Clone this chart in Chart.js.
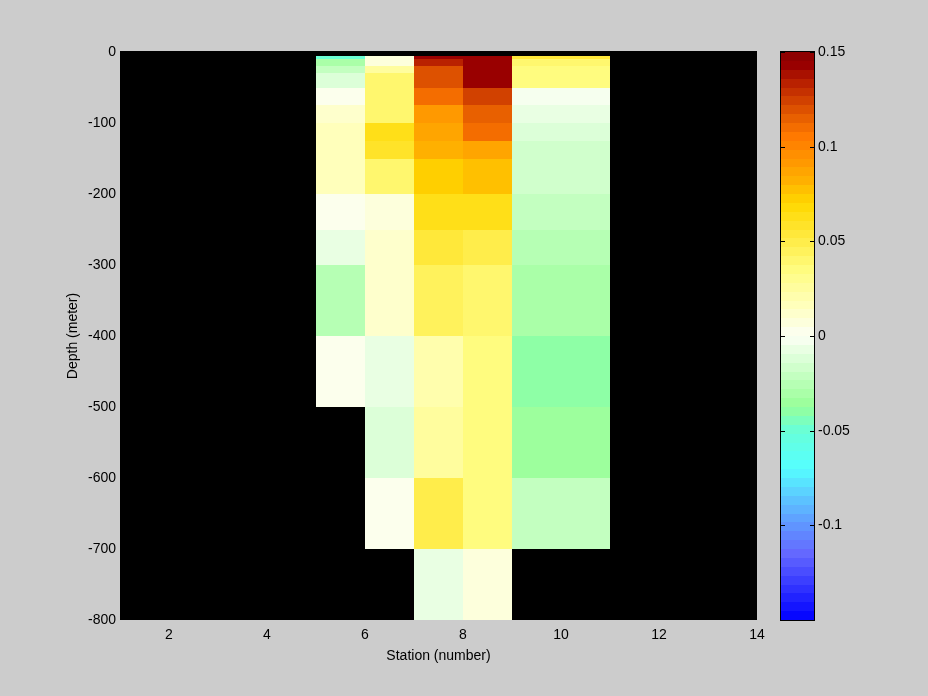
<!DOCTYPE html>
<html>
<head>
<meta charset="utf-8">
<script src="https://cdn.jsdelivr.net/npm/chart.js@4/dist/chart.umd.min.js"></script>
<style>
  html, body { margin: 0; padding: 0; background: #cccccc; }
  canvas { display: block; }
</style>
</head>
<body>
<canvas id="chart" width="928" height="696"></canvas>
<script>
// grid edges (pcolor style)
const stationEdges = [5, 6, 7, 8, 9, 11];
const depthEdges = [-5, -10, -20, -30, -50, -75, -100, -125, -150, -200, -250, -300, -400, -500, -600, -700, -800];

// one value per depth cell, null = no data (black)
const station5 = [-0.049, -0.030, -0.023, -0.011, 0.002, 0.013, 0.017, 0.017, 0.017, 0.004, -0.009, -0.024, 0.002, null, null, null];
const station6 = [0.007, 0.007, 0.028, 0.040, 0.040, 0.040, 0.061, 0.058, 0.040, 0.006, 0.013, 0.013, -0.006, -0.011, 0.002, null];
const station7 = [0.144, 0.134, 0.120, 0.120, 0.110, 0.090, 0.086, 0.082, 0.071, 0.065, 0.055, 0.043, 0.020, 0.024, 0.050, -0.006];
const station8 = [0.145, 0.145, 0.145, 0.145, 0.124, 0.115, 0.110, 0.086, 0.077, 0.061, 0.050, 0.038, 0.033, 0.034, 0.036, 0.007];
const station9 = [0.055, 0.040, 0.035, 0.035, -0.002, -0.006, -0.011, -0.015, -0.015, -0.019, -0.024, -0.029, -0.042, -0.037, -0.020, null];
const columns = [station5, station6, station7, station8, station9];

const xTicks = [2, 4, 6, 8, 10, 12, 14];
const yTicks = [-800, -700, -600, -500, -400, -300, -200, -100, 0];
const cbTicks = [-0.1, -0.05, 0, 0.05, 0.1, 0.15];
const cMin = -0.15, cMax = 0.15, nColors = 64;

// colormap control points: value, r, g, b
const cmapStops = [
    [-0.15, 0, 0, 255],
    [-0.115, 100, 104, 255],
    [-0.1, 96, 150, 255],
    [-0.085, 92, 200, 255],
    [-0.07, 85, 255, 255],
    [-0.05, 104, 255, 216],
    [-0.037, 152, 255, 152],
    [0, 252, 255, 245],
    [0.015, 255, 255, 192],
    [0.035, 255, 252, 128],
    [0.05, 255, 236, 72],
    [0.07, 255, 216, 0],
    [0.082, 255, 176, 0],
    [0.092, 255, 152, 0],
    [0.106, 255, 120, 0],
    [0.115, 232, 96, 0],
    [0.134, 184, 32, 0],
    [0.143, 153, 0, 0],
    [0.15, 136, 0, 0]
];

const interp = (v) => {
    for (let i = 0; i < cmapStops.length - 1; i++) {
        const a = cmapStops[i], b = cmapStops[i + 1];
        if (v <= b[0]) {
            const t = Math.max(0, (v - a[0]) / (b[0] - a[0]));
            return [1, 2, 3].map(k => Math.round(a[k] + (b[k] - a[k]) * t));
        }
    }
    return cmapStops[cmapStops.length - 1].slice(1);
};

const step = (cMax - cMin) / nColors;
const colormap = [];
for (let k = 0; k < nColors; k++) {
    const c = interp(cMin + (k + 0.5) * step);
    colormap.push(`rgb(${c[0]},${c[1]},${c[2]})`);
}
const colorFor = (v) => {
    let idx = Math.floor((v - cMin) / (cMax - cMin) * nColors);
    return colormap[Math.min(nColors - 1, Math.max(0, idx))];
};

const heatmap = {
    id: 'heatmap',
    beforeDatasetsDraw(chart) {
        const {ctx, chartArea: a, scales: {x, y, cb}} = chart;
        ctx.save();
        // axes background (NaN shows black)
        ctx.fillStyle = '#000';
        ctx.fillRect(a.left, a.top - 1, a.right - a.left, a.bottom - a.top + 1);

        columns.forEach((col, i) => {
            const x0 = Math.round(x.getPixelForValue(stationEdges[i]));
            const x1 = Math.round(x.getPixelForValue(stationEdges[i + 1]));
            col.forEach((v, j) => {
                if (v === null) return;
                const y0 = Math.round(y.getPixelForValue(depthEdges[j]));
                const y1 = Math.round(y.getPixelForValue(depthEdges[j + 1]));
                ctx.fillStyle = colorFor(v);
                ctx.fillRect(x0, y0, x1 - x0, y1 - y0);
            });
        });

        // colorbar
        const bx0 = a.right + 24, bx1 = a.right + 57;
        for (let k = 0; k < nColors; k++) {
            const yTop = Math.round(cb.getPixelForValue(cMin + (k + 1) * step));
            const yBot = Math.round(cb.getPixelForValue(cMin + k * step));
            ctx.fillStyle = colormap[k];
            ctx.fillRect(bx0, yTop, bx1 - bx0, yBot - yTop);
        }
        ctx.strokeStyle = '#000';
        ctx.lineWidth = 1;
        const cTop = Math.round(cb.getPixelForValue(cMax));
        const cBot = Math.round(cb.getPixelForValue(cMin));
        ctx.strokeRect(bx0 - 0.5, cTop - 0.5, bx1 - bx0 + 1, cBot - cTop + 1);
        ctx.beginPath();
        cbTicks.forEach(t => {
            const py = Math.round(cb.getPixelForValue(t)) + 0.5;
            ctx.moveTo(bx0, py); ctx.lineTo(bx0 + 4, py);
            ctx.moveTo(bx1, py); ctx.lineTo(bx1 - 4, py);
        });
        ctx.stroke();
        ctx.restore();
    }
};

Chart.defaults.color = '#000';
Chart.defaults.font.family = '"Liberation Sans", Arial, sans-serif';
Chart.defaults.font.size = 14;

new Chart(document.getElementById('chart'), {
    type: 'scatter',
    data: { datasets: [] },
    options: {
        responsive: false,
        animation: false,
        layout: { padding: { top: 52, right: 0, bottom: 0, left: 0 } },
        plugins: { legend: { display: false }, tooltip: { enabled: false } },
        scales: {
            x: {
                type: 'linear',
                min: 1,
                max: 14,
                afterBuildTicks: (s) => { s.ticks = xTicks.map(v => ({value: v})); },
                afterFit: (s) => { s.height = 76; },
                grid: { display: false, drawTicks: false },
                border: { display: false },
                ticks: { padding: 7, maxRotation: 0, callback: v => String(v) },
                title: { display: true, text: 'Station (number)', padding: { top: 0, bottom: 31 } }
            },
            y: {
                type: 'linear',
                min: -800,
                max: 0,
                afterBuildTicks: (s) => { s.ticks = yTicks.map(v => ({value: v})); },
                afterFit: (s) => { s.width = 120; },
                grid: { display: false, drawTicks: false },
                border: { display: false },
                ticks: { padding: 4, callback: v => String(v) },
                title: { display: true, text: 'Depth (meter)', padding: { top: 65, bottom: 0 } }
            },
            cb: {
                type: 'linear',
                position: 'right',
                min: cMin,
                max: cMax,
                afterBuildTicks: (s) => { s.ticks = cbTicks.map(v => ({value: v})); },
                afterFit: (s) => { s.width = 171; },
                // invisible tick marks only push the labels past the bar
                grid: { display: true, drawOnChartArea: false, drawTicks: true, tickLength: 57, color: 'rgba(0,0,0,0)' },
                border: { display: false },
                ticks: { padding: 4, callback: v => String(v) }
            }
        }
    },
    plugins: [heatmap]
});
</script>
</body>
</html>
